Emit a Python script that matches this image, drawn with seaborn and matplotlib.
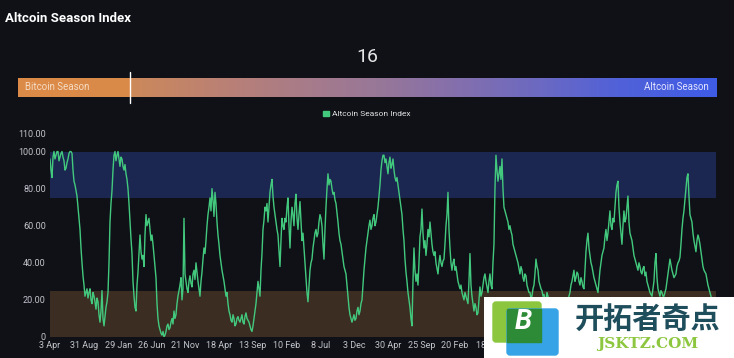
import matplotlib.patches as mpatches
import numpy as np
import pandas as pd
import seaborn as sns
from matplotlib import pyplot as plt
from matplotlib.colors import LinearSegmentedColormap

# altcoin season index, every 4-5 days
altcoin_index = [
    # 2017 - early 2018
    96, 90, 86, 97, 100, 96, 98, 100, 100, 95, 97, 99, 100, 97, 95, 90, 91, 94, 96, 99,
    100, 100, 99, 90, 84, 82, 79, 76, 70, 64, 58, 48, 40, 33, 28, 22, 24, 26, 21, 24,
    26, 20, 18, 24, 22, 19, 15, 21, 19, 12, 8, 14, 25, 10, 6, 11, 16, 19, 24, 40,
    62, 72, 79, 90, 98, 100, 95, 98, 100, 96, 92, 97, 96, 92, 90, 93, 88, 85, 80, 72,
    62, 53, 45, 30, 22, 16, 14, 28, 35, 45, 55, 46, 42, 44, 38, 55, 66, 60, 62, 64,
    58, 52, 55, 50, 44, 38, 32, 18, 10, 6,
    # mid 2018 - 2019
    4, 2, 1, 3, 0, 1, 3, 6, 7, 4, 5, 8, 10, 7, 14, 10, 12, 18, 22, 25,
    28, 32, 20, 26, 64, 34, 30, 26, 24, 30, 33, 29, 27, 34, 36, 31, 40, 35, 30, 26,
    22, 30, 35, 42, 48, 45, 52, 60, 66, 70, 75, 68, 80, 74, 65, 78, 72, 62, 55, 50,
    44, 40, 36, 33, 30, 26, 22, 24, 18, 14, 12, 9, 8, 12, 10, 6, 7, 10, 11, 9,
    8, 10, 12, 8, 7, 11, 13, 10, 9, 8, 6, 4, 3, 6, 10, 14, 18, 24, 30, 26,
    22, 36, 45, 58, 63, 70,
    # 2019 - 2020
    68, 72, 62, 70, 78, 82, 85, 76, 70, 66, 62, 58, 55, 46, 38, 52, 64, 60, 58, 64,
    62, 70, 75, 60, 48, 62, 70, 66, 60, 72, 77, 64, 58, 66, 73, 62, 52, 56, 48, 40,
    32, 24, 19, 28, 36, 40, 42, 48, 52, 56, 58, 54, 56, 62, 66, 64, 60, 50, 42, 58,
    70, 80, 88, 82, 85, 84, 80, 77, 78, 74, 72, 67, 62, 56, 52, 50, 46, 42, 38, 36,
    34, 28, 22, 16, 12, 10, 8, 10, 12, 9, 10, 14, 16, 12, 14, 18, 20, 28, 36, 42,
    48, 52, 56, 60, 63, 58, 60, 64, 66, 60,
    # 2021 - 2022
    62, 66, 70, 76, 82, 90, 95, 98, 98, 94, 96, 92, 88, 94, 97, 91, 93, 96, 90, 86,
    84, 86, 82, 78, 74, 70, 66, 58, 52, 42, 35, 30, 24, 20, 16, 10, 6, 30, 48, 36,
    30, 34, 28, 40, 54, 58, 69, 56, 48, 52, 44, 50, 58, 54, 62, 56, 50, 46, 44, 46,
    40, 37, 34, 40, 44, 40, 38, 41, 42, 50, 60, 66, 78, 58, 48, 40, 36, 40, 42, 36,
    38, 34, 30, 28, 26, 28, 24, 22, 20, 24, 22, 20, 18, 30, 45, 28, 22, 18, 14, 18,
    16, 12, 13, 20, 27, 22, 24, 28, 32, 34,
    # 2022 - 2023
    30, 27, 24, 30, 34, 28, 26, 40, 50, 80, 98, 90, 84, 88, 92, 85, 96, 80, 70, 68,
    66, 64, 62, 58, 60, 57, 55, 50, 48, 46, 44, 42, 40, 37, 34, 38, 36, 32, 30, 34,
    33, 28, 26, 24, 24, 21, 22, 26, 28, 34, 42, 38, 36, 30, 28, 26, 25, 22, 23, 20,
    20, 24, 22, 18, 15, 20, 18, 14, 12, 16, 14, 11, 10, 14, 16, 13, 12, 15, 18, 14,
    15, 18, 20, 22, 24, 28, 30, 33, 36, 30, 32, 35, 34, 30, 28, 32, 30, 27, 26, 36,
    46, 52, 56, 48, 44, 40, 38, 35, 32, 30,
    # 2024 - 2025
    28, 26, 24, 30, 36, 40, 44, 46, 48, 54, 58, 52, 56, 62, 68, 60, 58, 64, 62, 70,
    78, 82, 84, 70, 62, 56, 50, 60, 68, 62, 64, 70, 76, 62, 56, 54, 52, 48, 44, 42,
    40, 38, 36, 40, 38, 35, 34, 37, 38, 33, 35, 30, 28, 26, 24, 23, 22, 26, 30, 40,
    45, 32, 26, 24, 22, 25, 24, 22, 22, 24, 26, 30, 34, 38, 42, 39, 36, 34, 32, 33,
    34, 38, 40, 41, 43, 50, 58, 64, 68, 74, 80, 86, 88, 76, 66, 64, 62, 56, 52, 49,
    46, 52, 55, 53, 50, 46, 42, 38, 36, 35, 34, 31, 28, 26, 24, 22, 20, 18, 16,
]
start_date = '2017-04-03'
end_date = '2025-04-06'
current_value = 16

tick_dates = ['2017-04-03', '2017-08-31', '2018-01-29', '2018-06-26', '2018-11-21',
              '2019-04-18', '2019-09-13', '2020-02-10', '2020-07-08', '2020-12-03',
              '2021-04-30', '2021-09-25', '2022-02-20', '2022-07-18']
tick_labels = ['3 Apr', '31 Aug', '29 Jan', '26 Jun', '21 Nov', '18 Apr', '13 Sep', '10 Feb',
               '8 Jul', '3 Dec', '30 Apr', '25 Sep', '20 Feb', '18 Jul']
y_ticks = [0, 20, 40, 60, 80, 100, 110]
y_tick_labels = ['0', '20.00', '40.00', '60.00', '80.00', '100.00', '110.00']

BG = '#0f1117'
LINE = '#43c97e'
W, H = 734, 358


def px(x, y, w, h):
    # pixel box (from top-left) -> figure fraction
    return [x / W, 1 - (y + h) / H, w / W, h / H]


def season_bar(fig):
    bar_ax = fig.add_axes(px(18, 78, 698, 19))
    cmap = LinearSegmentedColormap.from_list('season', [
        (0.0, '#dc8a47'), (0.16, '#da8a49'), (0.161, '#cc895a'), (0.30, '#b98076'),
        (0.42, '#a67b8b'), (0.52, '#977799'), (0.62, '#8670ab'), (0.75, '#6b69c2'),
        (0.86, '#5161d8'), (1.0, '#3f5ce6')])
    gradient = np.linspace(0, 1, 600).reshape(1, -1)
    bar_ax.imshow(gradient, cmap=cmap, aspect='auto', extent=[0, 100, 0, 1])
    bar_ax.set_xlim(0, 100)
    bar_ax.set_ylim(0, 1)
    bar_ax.axis('off')
    bar_ax.plot([current_value, current_value], [-0.3, 1.3], color='white', lw=1, clip_on=False)
    bar_ax.text(1.0, 0.5, 'Bitcoin Season', color='#f6dcc4', fontsize=7, va='center')
    bar_ax.text(99.0, 0.5, 'Altcoin Season', color='#e4e6ff', fontsize=7, va='center', ha='right')


def watermark(fig):
    wm = fig.add_axes(px(484, 297, 250, 61))
    wm.set_facecolor('white')
    wm.set_xlim(484, 734)
    wm.set_ylim(358, 297)
    wm.set_xticks([])
    wm.set_yticks([])
    for s in wm.spines.values():
        s.set_visible(False)
    wm.add_patch(mpatches.FancyBboxPatch((493, 302), 48, 40, boxstyle='round,pad=0,rounding_size=3',
                                         color='#8cc63f'))
    wm.add_patch(mpatches.FancyBboxPatch((507, 309), 51, 46, boxstyle='round,pad=0,rounding_size=3',
                                         color='#35a3e6'))
    wm.add_patch(mpatches.Rectangle((507, 309), 34, 33, color='#2d8a36'))
    wm.text(523, 322, 'B', color='white', fontsize=20, fontweight='bold', style='italic',
            ha='center', va='center')
    wm.text(648, 320, '开拓者奇点', color='#1e4d5c', fontsize=21, fontweight='bold',
            ha='center', va='center', family=['Noto Sans CJK SC', 'DejaVu Sans'])
    wm.text(648, 344, 'JSKTZ.COM', color='#8dc63f', fontsize=11, fontweight='bold',
            ha='center', va='center', family=['DejaVu Serif'])


def main():
    sns.set_style('dark')
    plt.rcParams['font.family'] = ['Roboto', 'DejaVu Sans']

    fig = plt.figure(figsize=(W / 100, H / 100), dpi=100, facecolor=BG)
    ax = fig.add_axes(px(50, 133, 666, 204))
    ax.set_facecolor(BG)

    df = pd.DataFrame({
        'date': pd.date_range(start_date, end_date, periods=len(altcoin_index)),
        'index': altcoin_index,
    })

    ax.axhspan(75, 100, color='#1b2750', zorder=0, lw=0)
    ax.axhspan(0, 25, color='#3b2d22', zorder=0, lw=0)
    sns.lineplot(data=df, x='date', y='index', ax=ax, color=LINE, linewidth=1.0)

    ax.set_xlim(pd.Timestamp(start_date), pd.Timestamp(end_date) + pd.Timedelta(days=9))
    ax.set_ylim(0, 110)
    ax.set_xticks(pd.to_datetime(tick_dates))
    ax.set_xticklabels(tick_labels)
    ax.set_yticks(y_ticks)
    ax.set_yticklabels(y_tick_labels)
    ax.tick_params(colors='#c2c5cb', labelsize=6.5, length=0, pad=3)
    ax.set_xlabel('')
    ax.set_ylabel('')
    ax.grid(False)
    for s in ax.spines.values():
        s.set_visible(False)

    fig.text(5 / W, 1 - 18 / H, 'Altcoin Season Index', color='white', fontsize=9.5,
             fontweight='bold', va='center')
    fig.text(367 / W, 1 - 57 / H, str(current_value), color='#e6e6e6', fontsize=14,
             ha='center', va='center')
    season_bar(fig)

    fig.legend(handles=[mpatches.Patch(color=LINE, label='Altcoin Season Index')],
               loc='center', bbox_to_anchor=(367 / W, 1 - 114 / H), frameon=False,
               fontsize=6, labelcolor='#e2e2e2', handlelength=0.7, handleheight=0.7,
               handletextpad=0.4)

    watermark(fig)

    fig.savefig('out.png', dpi=100, facecolor=BG)


if __name__ == '__main__':
    main()
